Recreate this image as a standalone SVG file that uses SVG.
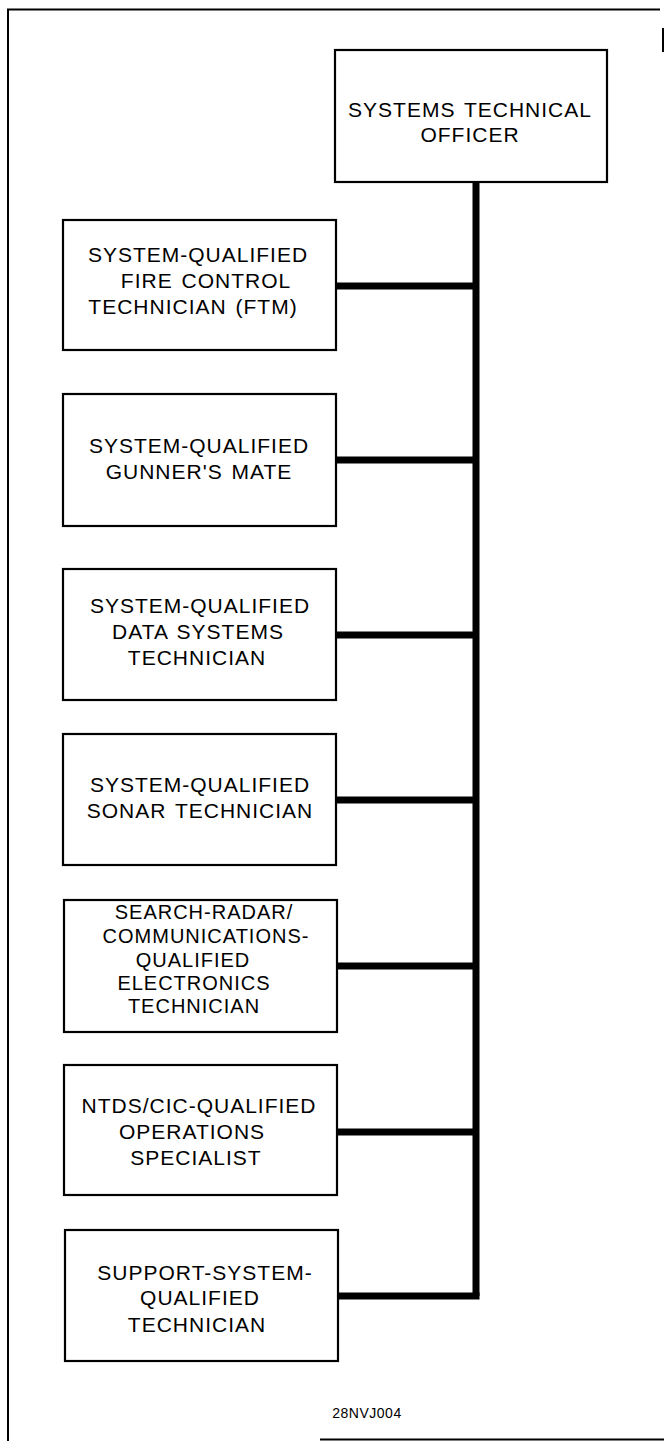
<svg xmlns="http://www.w3.org/2000/svg" width="664" height="1441" viewBox="0 0 664 1441">
<style>
.frame{stroke:#000;stroke-width:2;fill:none}
.box{fill:#fff;stroke:#000;stroke-width:2.2}
.conn{stroke:#000;stroke-width:7;fill:none;stroke-linejoin:miter;stroke-linecap:butt}
text{font-family:"Liberation Sans",Arial,Helvetica,sans-serif;font-size:21px;fill:#000;text-anchor:middle;letter-spacing:1px;word-spacing:2px}
.small{font-size:20px}
.code{font-size:14px;letter-spacing:0.5px}
</style>
<rect width="664" height="1441" fill="#fff"/>
<g id="frame">
<line class="frame" x1="8" y1="10" x2="8" y2="1441"/>
<line class="frame" x1="7" y1="9.5" x2="660" y2="9.5"/>
<line class="frame" x1="663" y1="28" x2="663" y2="52"/>
<line class="frame" x1="320" y1="1439.5" x2="664" y2="1439.5"/>
</g>
<g id="connectors">
<line class="conn" x1="476" y1="182" x2="476" y2="1296"/>
<line class="conn" x1="336" y1="286" x2="476" y2="286"/>
<line class="conn" x1="336" y1="460" x2="476" y2="460"/>
<line class="conn" x1="336" y1="635" x2="476" y2="635"/>
<line class="conn" x1="336" y1="800" x2="476" y2="800"/>
<line class="conn" x1="336" y1="966" x2="476" y2="966"/>
<line class="conn" x1="336" y1="1132" x2="476" y2="1132"/>
<path class="conn" d="M336 1296 H479.5"/>
</g>
<g id="n0">
<rect class="box" x="335" y="50" width="272" height="132"/>
<text x="470" y="117">SYSTEMS TECHNICAL</text>
<text x="470" y="142">OFFICER</text>
</g>
<g id="n1">
<rect class="box" x="63" y="220" width="273" height="130"/>
<text x="198" y="262">SYSTEM-QUALIFIED</text>
<text x="206" y="288">FIRE CONTROL</text>
<text x="193" y="314">TECHNICIAN (FTM)</text>
</g>
<g id="n2">
<rect class="box" x="63" y="394" width="273" height="132"/>
<text x="199" y="453">SYSTEM-QUALIFIED</text>
<text x="199" y="479">GUNNER'S MATE</text>
</g>
<g id="n3">
<rect class="box" x="63" y="569" width="273" height="131"/>
<text x="200" y="613">SYSTEM-QUALIFIED</text>
<text x="198" y="639">DATA SYSTEMS</text>
<text x="197" y="665">TECHNICIAN</text>
</g>
<g id="n4">
<rect class="box" x="63" y="734" width="273" height="131"/>
<text x="200" y="792">SYSTEM-QUALIFIED</text>
<text x="200" y="818">SONAR TECHNICIAN</text>
</g>
<g id="n5">
<rect class="box" x="64" y="900" width="273" height="132"/>
<text class="small" x="204" y="919">SEARCH-RADAR/</text>
<text class="small" x="206" y="943">COMMUNICATIONS-</text>
<text class="small" x="193" y="967">QUALIFIED</text>
<text class="small" x="194" y="990">ELECTRONICS</text>
<text class="small" x="194" y="1013">TECHNICIAN</text>
</g>
<g id="n6">
<rect class="box" x="64" y="1065" width="273" height="130"/>
<text x="199" y="1113">NTDS/CIC-QUALIFIED</text>
<text x="192" y="1139">OPERATIONS</text>
<text x="196" y="1165">SPECIALIST</text>
</g>
<g id="n7">
<rect class="box" x="65" y="1230" width="273" height="131"/>
<text x="205" y="1280">SUPPORT-SYSTEM-</text>
<text x="200" y="1305">QUALIFIED</text>
<text x="197" y="1332">TECHNICIAN</text>
</g>
<text class="code" x="367" y="1418">28NVJ004</text>
</svg>
